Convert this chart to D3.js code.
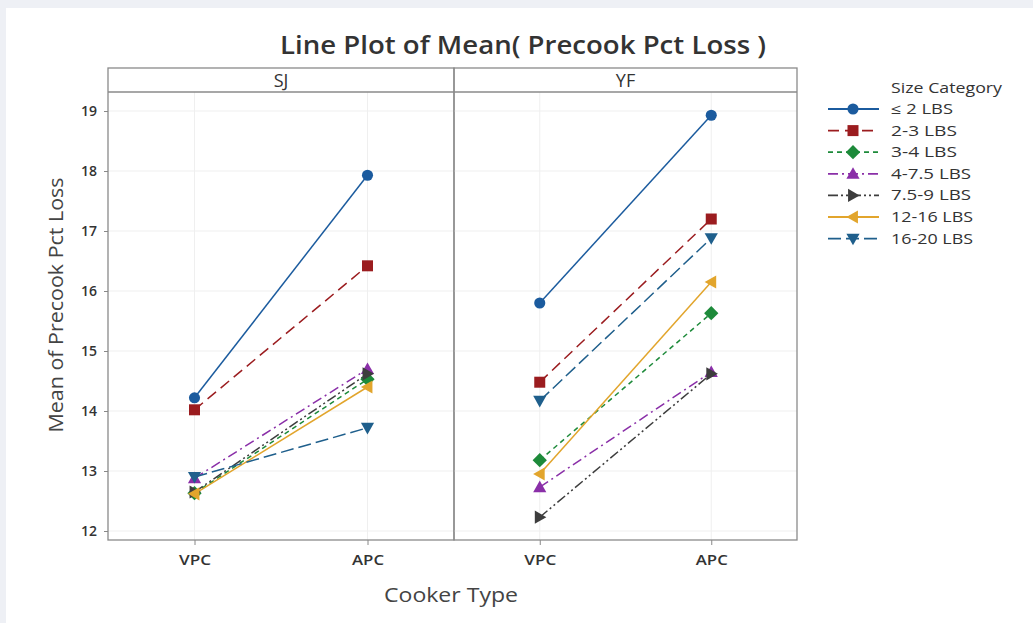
<!DOCTYPE html>
<html><head><meta charset="utf-8">
<script src="https://cdn.jsdelivr.net/npm/d3@7"></script>
<style>body{margin:0;background:#eef0f5;}svg{display:block;font-family:"Open Sans","Noto Sans",sans-serif;}</style>
</head><body><svg id="c" width="1033" height="623"></svg>
<script>
const panels = ["SJ", "YF"];
const cookers = ["VPC", "APC"];
const sizeCategories = ["≤ 2 LBS", "2-3 LBS", "3-4 LBS", "4-7.5 LBS", "7.5-9 LBS", "12-16 LBS", "16-20 LBS"];
// values [VPC, APC] per size category
const sjValues = [
  [14.22, 17.93],
  [14.02, 16.42],
  [12.63, 14.53],
  [12.88, 14.70],
  [12.65, 14.62],
  [12.62, 14.40],
  [12.90, 13.72]
];
const yfValues = [
  [15.80, 18.93],
  [14.48, 17.20],
  [13.18, 15.63],
  [12.73, 14.65],
  [12.23, 14.62],
  [12.95, 16.15],
  [14.17, 16.88]
];
const yTicks = [12, 13, 14, 15, 16, 17, 18, 19];

const colors = ["#1b5b9e", "#9b1c1f", "#1d8a3a", "#8a2fa8", "#3d3d3d", "#e2a52c", "#1f5f8c"];
const dashes = [null, "11,6", "5,4", "10,4,2,4", "10,3,2,3,2,3", null, "13,5"];
const symbols = ["circle", "square", "diamond", "triUp", "triRight", "triLeft", "triDown"];

const svg = d3.select("#c");
svg.append("rect").attr("x", 6).attr("y", 8).attr("width", 1027).attr("height", 615).attr("fill", "#ffffff");

function fit(sel, w) {
  sel.attr("textLength", w).attr("lengthAdjust", "spacingAndGlyphs");
  return sel;
}

const panelTop = 68, stripH = 24, panelBottom = 540;
const panelX = [108, 454, 797];
const y = d3.scaleLinear().domain([11.85, 19.317]).range([panelBottom, panelTop + stripH]);
const allValues = [sjValues, yfValues];

function markerPath(sym, s) {
  switch (sym) {
    case "circle": return d3.symbol(d3.symbolCircle, s * s * 0.8)();
    case "square": return `M${-s/2},${-s/2}h${s}v${s}h${-s}Z`;
    case "diamond": return `M0,${-s*0.65}L${s*0.65},0L0,${s*0.65}L${-s*0.65},0Z`;
    case "triUp": return `M0,${-s*0.6}L${s*0.6},${s*0.45}L${-s*0.6},${s*0.45}Z`;
    case "triDown": return `M0,${s*0.6}L${s*0.6},${-s*0.45}L${-s*0.6},${-s*0.45}Z`;
    case "triRight": return `M${s*0.6},0L${-s*0.45},${s*0.6}L${-s*0.45},${-s*0.6}Z`;
    case "triLeft": return `M${-s*0.6},0L${s*0.45},${s*0.6}L${s*0.45},${-s*0.6}Z`;
  }
}

panels.forEach((p, pi) => {
  const x0 = panelX[pi], x1 = panelX[pi + 1];
  const x = d3.scalePoint().domain(cookers).range([x0, x1]).padding(0.5);
  const g = svg.append("g");
  // grid
  g.selectAll(".hg").data(yTicks).join("line")
    .attr("x1", x0).attr("x2", x1).attr("y1", d => y(d)).attr("y2", d => y(d))
    .attr("stroke", "#efefef").attr("stroke-width", 1);
  g.selectAll(".vg").data(cookers).join("line")
    .attr("x1", d => x(d)).attr("x2", d => x(d)).attr("y1", panelTop + stripH).attr("y2", panelBottom)
    .attr("stroke", "#efefef").attr("stroke-width", 1);
  // x axis
  const xa = g.append("g").attr("transform", `translate(0,${panelBottom})`).call(d3.axisBottom(x).tickSize(5).tickPadding(10));
  xa.select(".domain").remove();
  xa.selectAll("line").attr("stroke", "#888");
  xa.selectAll("text").attr("font-size", 14).attr("font-weight", 600).attr("fill", "#333").attr("font-family", "Open Sans")
    .attr("textLength", 32).attr("lengthAdjust", "spacingAndGlyphs");
  // lines
  const vals = allValues[pi];
  sizeCategories.forEach((c, ci) => {
    const pts = cookers.map((k, ki) => [x(k), y(vals[ci][ki])]);
    g.append("path").attr("d", d3.line()(pts)).attr("fill", "none")
      .attr("stroke", colors[ci]).attr("stroke-width", 1.5)
      .attr("stroke-dasharray", dashes[ci]);
  });
  sizeCategories.forEach((c, ci) => {
    cookers.forEach((k, ki) => {
      g.append("path").attr("d", markerPath(symbols[ci], 11))
        .attr("transform", `translate(${x(k)},${y(vals[ci][ki])})`)
        .attr("fill", colors[ci]);
    });
  });
  // border & strip
  g.append("rect").attr("x", x0).attr("y", panelTop).attr("width", x1 - x0).attr("height", panelBottom - panelTop)
    .attr("fill", "none").attr("stroke", "#8a8a8a").attr("stroke-width", 1.3);
  g.append("line").attr("x1", x0).attr("x2", x1).attr("y1", panelTop + stripH).attr("y2", panelTop + stripH)
    .attr("stroke", "#8a8a8a").attr("stroke-width", 1.3);
  g.append("text").attr("x", (x0 + x1) / 2).attr("y", panelTop + 19).attr("text-anchor", "middle")
    .attr("font-size", 18).attr("fill", "#333").text(p);
});

// y axis
const ya = svg.append("g").attr("transform", `translate(${panelX[0]},0)`)
  .call(d3.axisLeft(y).tickValues(yTicks).tickSize(4).tickPadding(7).tickFormat(d3.format("d")));
ya.select(".domain").remove();
ya.selectAll("line").attr("stroke", "#888");
ya.selectAll("text").attr("font-size", 14).attr("font-weight", 600).attr("fill", "#333").attr("font-family", "Open Sans");

// titles
fit(svg.append("text").attr("x", 523).attr("y", 54).attr("text-anchor", "middle")
  .attr("font-size", 25).attr("font-weight", 600).attr("fill", "#333").text("Line Plot of Mean( Precook Pct Loss )"), 486);
fit(svg.append("text").attr("x", 451).attr("y", 602).attr("text-anchor", "middle")
  .attr("font-size", 20).attr("fill", "#444").text("Cooker Type"), 134);
fit(svg.append("text").attr("transform", "translate(63,305) rotate(-90)").attr("text-anchor", "middle")
  .attr("font-size", 20).attr("fill", "#444").text("Mean of Precook Pct Loss"), 255);

// legend
const lg = svg.append("g");
fit(lg.append("text").attr("x", 891).attr("y", 93).attr("font-size", 14).attr("fill", "#333").text("Size Category"), 111);
const legendWidths = [62, 66, 66, 80, 80, 82, 82];
sizeCategories.forEach((c, ci) => {
  const ly = 109 + ci * 21.6;
  lg.append("line").attr("x1", 828).attr("x2", 879).attr("y1", ly).attr("y2", ly)
    .attr("stroke", colors[ci]).attr("stroke-width", 1.8).attr("stroke-dasharray", dashes[ci]);
  lg.append("path").attr("d", markerPath(symbols[ci], 11)).attr("transform", `translate(853,${ly})`).attr("fill", colors[ci]);
  fit(lg.append("text").attr("x", 891).attr("y", ly + 5).attr("font-size", 14).attr("fill", "#333").text(c), legendWidths[ci]);
});
</script></body></html>
